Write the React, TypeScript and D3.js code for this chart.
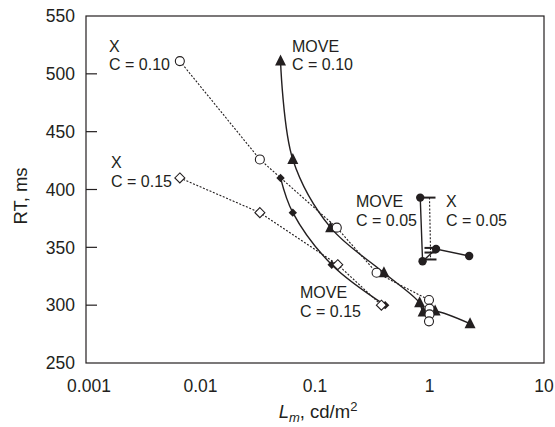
import React from "react";
import * as d3 from "d3";

const W = 555, H = 427;
const M = { left: 86, right: 544, top: 16, bottom: 363 };

const yTicks = [250, 300, 350, 400, 450, 500, 550];
const xTicks = [0.001, 0.01, 0.1, 1, 10];
const xTickLabels = ["0.001", "0.01", "0.1", "1", "10"];

// X, C = 0.10 (open circles, dotted)
const xC10_L = [0.0066, 0.033, 0.155, 0.345, 0.99, 1.0, 1.0, 0.99];
const xC10_RT = [511, 426, 367, 328, 304.5, 297, 292, 286];
// X, C = 0.15 (open diamonds, dotted)
const xC15_L = [0.0066, 0.033, 0.158, 0.38];
const xC15_RT = [410, 380, 335, 300];
// X, C = 0.05 (dash markers, dotted)
const xC05_L = [1.0, 1.02, 1.02, 1.02];
const xC05_RT = [393, 349.5, 345.5, 339.5];
// MOVE, C = 0.10 (filled triangles, solid)
const mC10_L = [0.05, 0.064, 0.137, 0.4, 0.82, 0.88, 1.12, 2.26];
const mC10_RT = [511, 426, 367, 328, 302, 294, 295, 284];
// MOVE, C = 0.15 (filled diamonds, solid)
const mC15_L = [0.05, 0.064, 0.14, 0.41];
const mC15_RT = [410, 380, 335, 300];
// MOVE, C = 0.05 (filled circles, solid)
const mC05_L = [0.83, 0.87, 1.14, 2.22];
const mC05_RT = [393, 338, 348.5, 342.5];

const zip = (a: number[], b: number[]) => a.map((v, i) => [v, b[i]] as [number, number]);

export default function App() {
  const x = d3.scaleLog().domain([0.001, 10]).range([M.left, M.right]);
  const y = d3.scaleLinear().domain([250, 550]).range([M.bottom, M.top]);
  const ink = "#231f20";
  const font = "'Liberation Sans', Arial, sans-serif";

  const lineLin = d3.line<[number, number]>().x(d => x(d[0])).y(d => y(d[1]));
  const lineSmooth = d3
    .line<[number, number]>()
    .x(d => x(d[0]))
    .y(d => y(d[1]))
    .curve(d3.curveCatmullRom.alpha(0.5));

  const xC10 = zip(xC10_L, xC10_RT);
  const xC15 = zip(xC15_L, xC15_RT);
  const xC05 = zip(xC05_L, xC05_RT);
  const mC10 = zip(mC10_L, mC10_RT);
  const mC15 = zip(mC15_L, mC15_RT);
  const mC05 = zip(mC05_L, mC05_RT);

  const dotted = { fill: "none", stroke: ink, strokeWidth: 1.1, strokeDasharray: "2,1.6" };
  const solid = { fill: "none", stroke: ink, strokeWidth: 1.4 };

  const tri = (cx: number, cy: number) => {
    const s = 5.5;
    return `M${cx},${cy - s - 1}L${cx + s},${cy + s - 1}L${cx - s},${cy + s - 1}Z`;
  };
  const dia = (cx: number, cy: number, s: number) =>
    `M${cx},${cy - s}L${cx + s},${cy}L${cx},${cy + s}L${cx - s},${cy}Z`;

  const txt = (t: string, tx: number, ty: number) => (
    <text x={tx} y={ty} fontSize={16} fill={ink} fontFamily={font}>
      {t}
    </text>
  );

  return (
    <svg width={W} height={H} style={{ position: "absolute", left: 0, top: 0 }}>
      <rect x={0} y={0} width={W} height={H} fill="#fff" />
      {/* frame */}
      <rect
        x={M.left}
        y={M.top}
        width={M.right - M.left}
        height={M.bottom - M.top}
        fill="none"
        stroke={ink}
        strokeWidth={1.2}
      />
      {/* y ticks */}
      {yTicks.map(t => (
        <g key={t}>
          {t !== 250 && t !== 550 && (
            <line x1={M.left} x2={M.left + 11} y1={y(t)} y2={y(t)} stroke={ink} strokeWidth={1.2} />
          )}
          <text
            x={75}
            y={y(t)}
            dy="0.36em"
            textAnchor="end"
            fontSize={17.5}
            fill={ink}
            fontFamily={font}
          >
            {t}
          </text>
        </g>
      ))}
      {/* x tick labels */}
      {xTicks.map((t, i) => (
        <text
          key={t}
          x={x(t) + (i === 0 ? 3 : 0)}
          y={391.5}
          textAnchor="middle"
          fontSize={17.5}
          fill={ink}
          fontFamily={font}
        >
          {xTickLabels[i]}
        </text>
      ))}
      {/* axis titles */}
      <text
        transform={`translate(27,196) rotate(-90)`}
        textAnchor="middle"
        fontSize={18.5}
        fill={ink}
        fontFamily={font}
      >
        RT, ms
      </text>
      <text x={318} y={418} textAnchor="middle" fontSize={18.5} fill={ink} fontFamily={font}>
        <tspan fontStyle="italic">L</tspan>
        <tspan fontStyle="italic" fontSize={13} dy={4}>m</tspan>
        <tspan dy={-4}>, cd/m</tspan>
        <tspan fontSize={13} dy={-7}>2</tspan>
      </text>

      {/* lines */}
      <path d={lineLin(xC10) || ""} {...dotted} />
      <path d={lineLin(xC15) || ""} {...dotted} />
      <path d={lineLin(xC05) || ""} {...dotted} />
      <path d={lineSmooth(mC10) || ""} {...solid} />
      <path d={lineSmooth(mC15) || ""} {...solid} />
      <path d={lineLin(mC05) || ""} {...solid} />

      {/* markers */}
      {mC10.map((d, i) => (
        <path key={"t" + i} d={tri(x(d[0]), y(d[1]))} fill={ink} />
      ))}
      {mC15.map((d, i) => (
        <path key={"fd" + i} d={dia(x(d[0]), y(d[1]), 4.2)} fill={ink} />
      ))}
      {mC05.map((d, i) => (
        <circle key={"fc" + i} cx={x(d[0])} cy={y(d[1])} r={4.2} fill={ink} />
      ))}
      {xC10.map((d, i) => (
        <circle key={"oc" + i} cx={x(d[0])} cy={y(d[1])} r={4.5} fill="#fff" stroke={ink} strokeWidth={1.1} />
      ))}
      {xC15.map((d, i) => (
        <path key={"od" + i} d={dia(x(d[0]), y(d[1]), 5)} fill="#fff" stroke={ink} strokeWidth={1.1} />
      ))}
      {xC05.map((d, i) => (
        <line
          key={"dash" + i}
          x1={x(d[0]) - 6}
          x2={x(d[0]) + 6}
          y1={y(d[1])}
          y2={y(d[1])}
          stroke={ink}
          strokeWidth={2}
        />
      ))}

      {/* annotations */}
      {txt("X", 109, 52)}
      {txt("C = 0.10", 109, 70)}
      {txt("X", 111, 168)}
      {txt("C = 0.15", 111, 187)}
      {txt("MOVE", 292, 52)}
      {txt("C = 0.10", 292, 70)}
      {txt("MOVE", 356, 207)}
      {txt("C = 0.05", 356, 226)}
      {txt("X", 446, 207)}
      {txt("C = 0.05", 446, 226)}
      {txt("MOVE", 300, 298)}
      {txt("C = 0.15", 300, 317)}
    </svg>
  );
}
